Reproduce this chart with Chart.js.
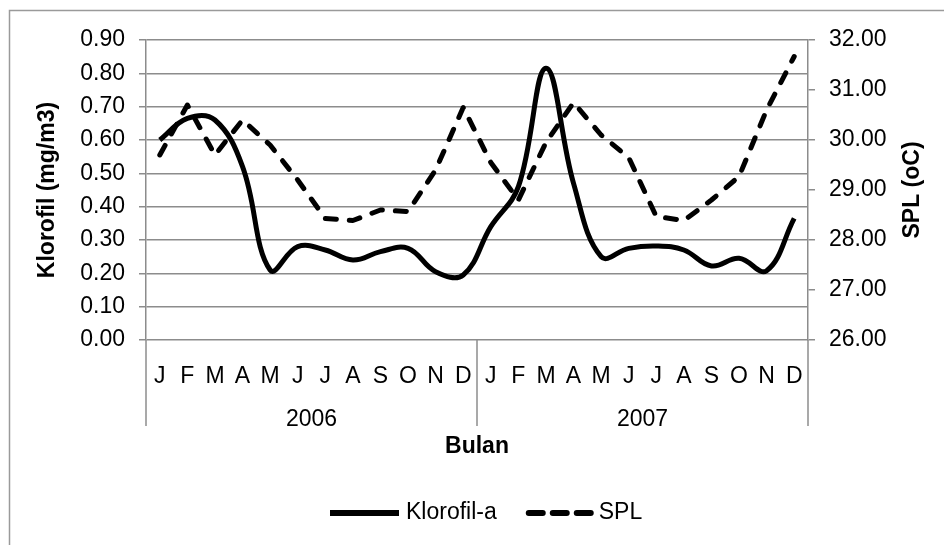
<!DOCTYPE html>
<html>
<head>
<meta charset="utf-8">
<script src="https://cdn.jsdelivr.net/npm/chart.js@4.4.1/dist/chart.umd.min.js"></script>
<style>
  html, body { margin: 0; padding: 0; background: #fff; }
  #wrap { width: 944px; height: 545px; }
</style>
</head>
<body>
<div id="wrap"><canvas id="chart" width="944" height="545"></canvas></div>
<script>
// Data
const months = ['J', 'F', 'M', 'A', 'M', 'J', 'J', 'A', 'S', 'O', 'N', 'D',
                'J', 'F', 'M', 'A', 'M', 'J', 'J', 'A', 'S', 'O', 'N', 'D'];
const years = ['2006', '2007'];
const klorofilValues = [0.60, 0.665, 0.66, 0.52, 0.21, 0.28, 0.27, 0.24, 0.265, 0.275, 0.205, 0.195,
                        0.34, 0.46, 0.815, 0.47, 0.25, 0.275, 0.282, 0.27, 0.222, 0.245, 0.208, 0.365];
const splValues = [29.7, 30.7, 29.7, 30.4, 29.9, 29.2, 28.43, 28.39, 28.6, 28.57, 29.4, 30.65,
                   29.55, 28.8, 29.95, 30.75, 30.1, 29.65, 28.47, 28.39, 28.8, 29.27, 30.6, 31.67];
const leftTitle = 'Klorofil (mg/m3)';
const rightTitle = 'SPL (oC)';
const xTitle = 'Bulan';

const FONT = "'Liberation Sans', Arial, sans-serif";
const FONT_SIZE = 23;
const GRID = '#8c8c8c';

// --- extra drawing: frame, category separators, right title, legend ---
const extras = {
    id: 'extras',
    beforeDraw(chart) {
        const ctx = chart.ctx;
        ctx.save();
        ctx.fillStyle = '#fff';
        ctx.fillRect(0, 0, chart.width, chart.height);
        ctx.strokeStyle = '#9a9a9a';
        ctx.lineWidth = 1.5;
        ctx.strokeRect(9.5, 10.5, chart.width + 40, chart.height + 40);
        ctx.restore();
    },
    afterDraw(chart) {
        const ctx = chart.ctx;
        const x = chart.scales.x;
        const area = chart.chartArea;
        ctx.save();

        // separators between the year groups
        const mid = (x.getPixelForValue(11) + x.getPixelForValue(12)) / 2;
        ctx.strokeStyle = GRID;
        ctx.lineWidth = 1.5;
        [x.left, mid, x.right].forEach(px => {
            ctx.beginPath();
            ctx.moveTo(px, area.bottom);
            ctx.lineTo(px, area.bottom + 86);
            ctx.stroke();
        });

        // secondary axis title, read bottom to top
        ctx.fillStyle = '#000';
        ctx.font = 'bold ' + FONT_SIZE + 'px ' + FONT;
        ctx.textAlign = 'center';
        ctx.textBaseline = 'middle';
        ctx.translate(913, (area.top + area.bottom) / 2);
        ctx.rotate(-Math.PI / 2);
        ctx.fillText(rightTitle, 0, 0);
        ctx.setTransform(1, 0, 0, 1, 0, 0);

        // legend
        const ly = 513;
        const items = chart.data.datasets;
        ctx.font = FONT_SIZE + 'px ' + FONT;
        ctx.textAlign = 'left';
        let lx = 327;
        items.forEach((ds, i) => {
            const sample = i === 0 ? 72 : 66;
            ctx.beginPath();
            ctx.strokeStyle = ds.borderColor;
            ctx.lineWidth = 6;
            ctx.lineCap = i === 0 ? 'butt' : 'round';
            ctx.setLineDash(i === 0 ? [] : [14, 10]);
            ctx.moveTo(lx + 3, ly);
            ctx.lineTo(lx + sample, ly);
            ctx.stroke();
            ctx.setLineDash([]);
            lx += sample + 7;
            ctx.fillText(ds.label, lx, ly);
            lx += ctx.measureText(ds.label).width + 29;
        });
        ctx.restore();
    }
};

const ctx = document.getElementById('chart').getContext('2d');
Chart.defaults.font.family = FONT;
Chart.defaults.font.size = FONT_SIZE;
Chart.defaults.color = '#000';

new Chart(ctx, {
    type: 'line',
    data: {
        labels: months,
        datasets: [
            {
                label: 'Klorofil-a',
                data: klorofilValues,
                yAxisID: 'y',
                borderColor: '#000',
                borderWidth: 5,
                pointRadius: 0,
                tension: 0.4,
                borderJoinStyle: 'round',
                fill: false
            },
            {
                label: 'SPL',
                data: splValues,
                yAxisID: 'y1',
                borderColor: '#000',
                borderWidth: 5,
                borderDash: [11, 13],
                borderCapStyle: 'round',
                borderJoinStyle: 'round',
                pointRadius: 0,
                tension: 0,
                fill: false
            }
        ]
    },
    options: {
        responsive: false,
        animation: false,
        layout: { padding: { top: 40, bottom: 81, left: 0, right: 0 } },
        plugins: {
            legend: { display: false },
            tooltip: { enabled: false }
        },
        scales: {
            x: {
                type: 'category',
                offset: true,
                grid: { display: false },
                border: { display: false },
                ticks: { autoSkip: false, maxRotation: 0, padding: 15 },
                afterFit(scale) { scale.height = 45; }
            },
            x2: {
                type: 'category',
                labels: years,
                position: 'bottom',
                offset: true,
                grid: { display: false },
                border: { display: false },
                ticks: { autoSkip: false, maxRotation: 0, padding: 13 },
                title: {
                    display: true,
                    text: xTitle,
                    font: { weight: 'bold', size: FONT_SIZE },
                    padding: { top: 0, bottom: 4 }
                },
                afterFit(scale) { scale.height = 79; }
            },
            y: {
                position: 'left',
                min: 0,
                max: 0.9,
                ticks: {
                    stepSize: 0.1,
                    padding: 14,
                    callback: v => v.toFixed(2)
                },
                grid: { color: GRID, lineWidth: 1.5, tickLength: 7 },
                border: { display: true, color: GRID, width: 1.5 },
                title: {
                    display: true,
                    text: leftTitle,
                    font: { weight: 'bold', size: FONT_SIZE },
                    padding: { top: 34, bottom: 0 }
                },
                afterFit(scale) { scale.width = 146; }
            },
            y1: {
                position: 'right',
                min: 26,
                max: 32,
                ticks: {
                    stepSize: 1,
                    padding: 14,
                    callback: v => v.toFixed(2)
                },
                grid: { drawOnChartArea: false, color: GRID, lineWidth: 1.5, tickLength: 7 },
                border: { display: true, color: GRID, width: 1.5 },
                afterFit(scale) { scale.width = 136; }
            }
        }
    },
    plugins: [extras]
});
</script>
</body>
</html>
